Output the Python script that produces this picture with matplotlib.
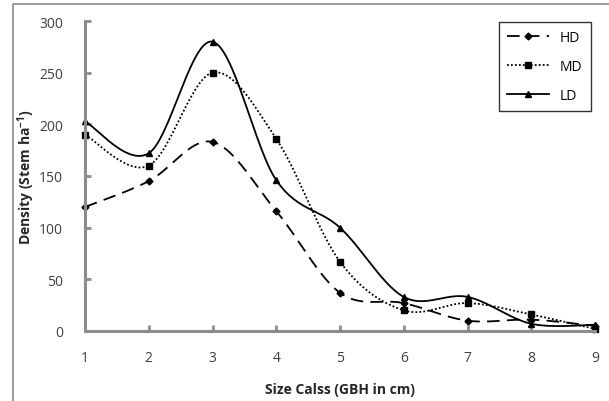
import matplotlib
matplotlib.use("Agg")
import matplotlib.pyplot as plt
import numpy as np
from matplotlib.patches import Rectangle

plt.rcParams['font.family'] = ['Open Sans', 'DejaVu Sans']
plt.rcParams['mathtext.fontset'] = 'custom'
plt.rcParams['mathtext.bf'] = 'Open Sans:bold'
plt.rcParams['mathtext.rm'] = 'Open Sans'

size_class = [1, 2, 3, 4, 5, 6, 7, 8, 9]
hd = [120, 145, 183, 116, 37, 27, 10, 11, 5]
md = [190, 160, 250, 186, 67, 20, 27, 16, 2]
ld = [203, 172, 280, 146, 100, 33, 33, 7, 6]


def smooth(ax, xs, ys, n=30):
    # Bezier smoothing (Catmull-Rom style) done in display space
    pts = ax.transData.transform(np.column_stack([xs, ys]))
    p = np.vstack([pts[0], pts, pts[-1]])
    out = []
    t = np.linspace(0, 1, n)[:, None]
    for i in range(1, len(p) - 2):
        p0, p1, p2, p3 = p[i - 1], p[i], p[i + 1], p[i + 2]
        c1 = p1 + (p2 - p0) / 6
        c2 = p2 - (p3 - p1) / 6
        seg = ((1 - t) ** 3) * p1 + 3 * ((1 - t) ** 2) * t * c1 \
            + 3 * (1 - t) * t ** 2 * c2 + t ** 3 * p2
        out.append(seg)
    out = np.vstack(out)
    d = ax.transData.inverted().transform(out)
    return d[:, 0], d[:, 1]


fig = plt.figure(figsize=(6.09, 4.02), dpi=100)
fig.patches.append(Rectangle((13 / 609, -0.1), 1.2, (402 - 5) / 402 + 0.1,
                             transform=fig.transFigure, fill=False,
                             edgecolor='#8c8c8c', linewidth=1.2))
ax = fig.add_axes([85 / 609, 70 / 402, 510 / 609, 310 / 402])
ax.set_xlim(1, 9)
ax.set_ylim(0, 300)

series = [
    ('HD', hd, 'D', 3.5, (0, (7, 4))),
    ('MD', md, 's', 5, (0, (1, 1.2))),
    ('LD', ld, '^', 5, '-'),
]
for name, vals, mk, ms, ls in series:
    sx, sy = smooth(ax, size_class, vals)
    ax.plot(sx, sy, color='black', linestyle=ls, linewidth=1.3)
    ax.plot(size_class, vals, linestyle='none', marker=mk, markersize=ms,
            color='black', clip_on=False)
    ax.plot([], [], color='black', linestyle=ls, linewidth=1.3,
            marker=mk, markersize=ms, label=name)

for s in ['top', 'right']:
    ax.spines[s].set_visible(False)
for s in ['left', 'bottom']:
    ax.spines[s].set_color('#8c8c8c')
    ax.spines[s].set_linewidth(2.2)

ax.set_xticks(size_class)
ax.set_yticks([0, 50, 100, 150, 200, 250, 300])
ax.tick_params(axis='both', direction='in', length=4, width=2,
               color='#8c8c8c', labelsize=10, labelcolor='#404040')
ax.tick_params(axis='x', pad=14)
ax.tick_params(axis='y', pad=16)

ax.set_xlabel('Size Calss (GBH in cm)', fontsize=10, fontweight='bold',
              color='#262626')
ax.set_ylabel('Density (Stem ha$^{\\mathbf{-1}}$)', fontsize=10,
              fontweight='bold', color='#262626')
ax.xaxis.set_label_coords(0.5, -0.165)
ax.yaxis.set_label_coords(-0.094, 0.5)

leg = ax.legend(loc='upper right', bbox_to_anchor=(1.005, 1.02),
                frameon=True, fancybox=False, fontsize=10,
                handlelength=3, borderpad=0.6, labelspacing=1.0)
leg.get_frame().set_edgecolor('black')
leg.get_frame().set_linewidth(1)

fig.savefig('out.png', dpi=100)
